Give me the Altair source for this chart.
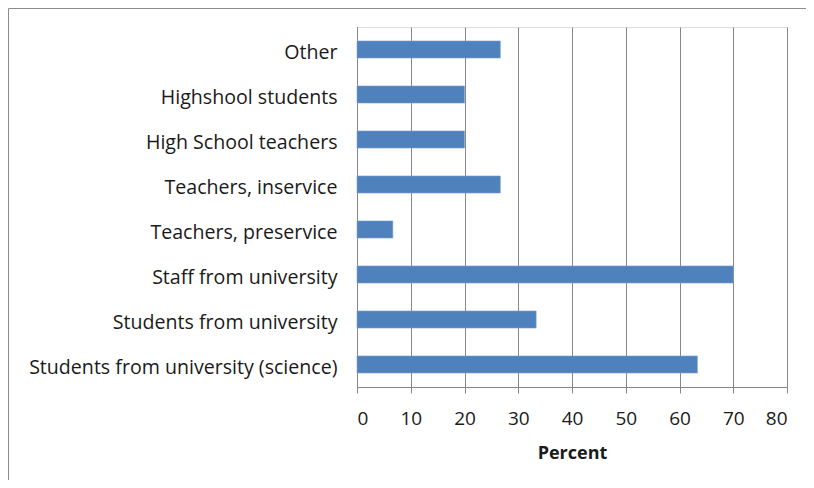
import altair as alt
import pandas as pd

categories = [
    "Other",
    "Highshool students",
    "High School teachers",
    "Teachers, inservice ",
    "Teachers, preservice",
    "Staff from university",
    "Students from university",
    "Students from university (science)",
]
percent = [26.67, 20.0, 20.0, 26.67, 6.67, 70.0, 33.33, 63.33]
x_ticks = [0, 10, 20, 30, 40, 50, 60, 70, 80]

df = pd.DataFrame({"category": categories, "percent": percent})

FONT = "Open Sans"
GRAY = "#878787"
TEXT = "#1a1a1a"

bars = alt.Chart(df).mark_bar(color="#4F81BD", stroke="#7FA3D3", strokeWidth=0.6).encode(
    y=alt.Y(
        "category:N",
        sort=categories,
        title=None,
        scale=alt.Scale(paddingInner=0.62, paddingOuter=0.31),
        axis=alt.Axis(
            ticks=False,
            labelPadding=20,
            labelOffset=3,
            labelFont=FONT,
            labelFontSize=19.6,
            labelColor=TEXT,
            labelLimit=400,
            domainColor=GRAY,
            grid=False,
        ),
    ),
    x=alt.X(
        "percent:Q",
        title="Percent",
        scale=alt.Scale(domain=[0, 80], nice=False),
        axis=alt.Axis(
            values=x_ticks,
            tickSize=6,
            tickColor=GRAY,
            domainColor=GRAY,
            gridColor=GRAY,
            grid=True,
            labelFont=FONT,
            labelFontSize=19,
            labelColor=TEXT,
            labelPadding=16,
            titleFont=FONT,
            titleFontSize=18,
            titleFontWeight="bold",
            titleColor=TEXT,
            titlePadding=16,
        ),
    ),
)

border = alt.Chart(pd.DataFrame({"b": [0]})).mark_rect(
    fillOpacity=0, stroke="#8c8c8c", strokeWidth=1
).encode(
    x=alt.value(-348.5),
    x2=alt.value(460),
    y=alt.value(-18.5),
    y2=alt.value(470),
)

chart = alt.layer(bars, border).properties(
    width=430,
    height=360,
    autosize=alt.AutoSizeParams(type="none"),
    padding={"left": 349, "top": 19, "right": 19, "bottom": 93},
).configure_view(stroke=None).configure(background="white")

chart.save("out.html", embed_options={"renderer": "svg", "actions": False})
